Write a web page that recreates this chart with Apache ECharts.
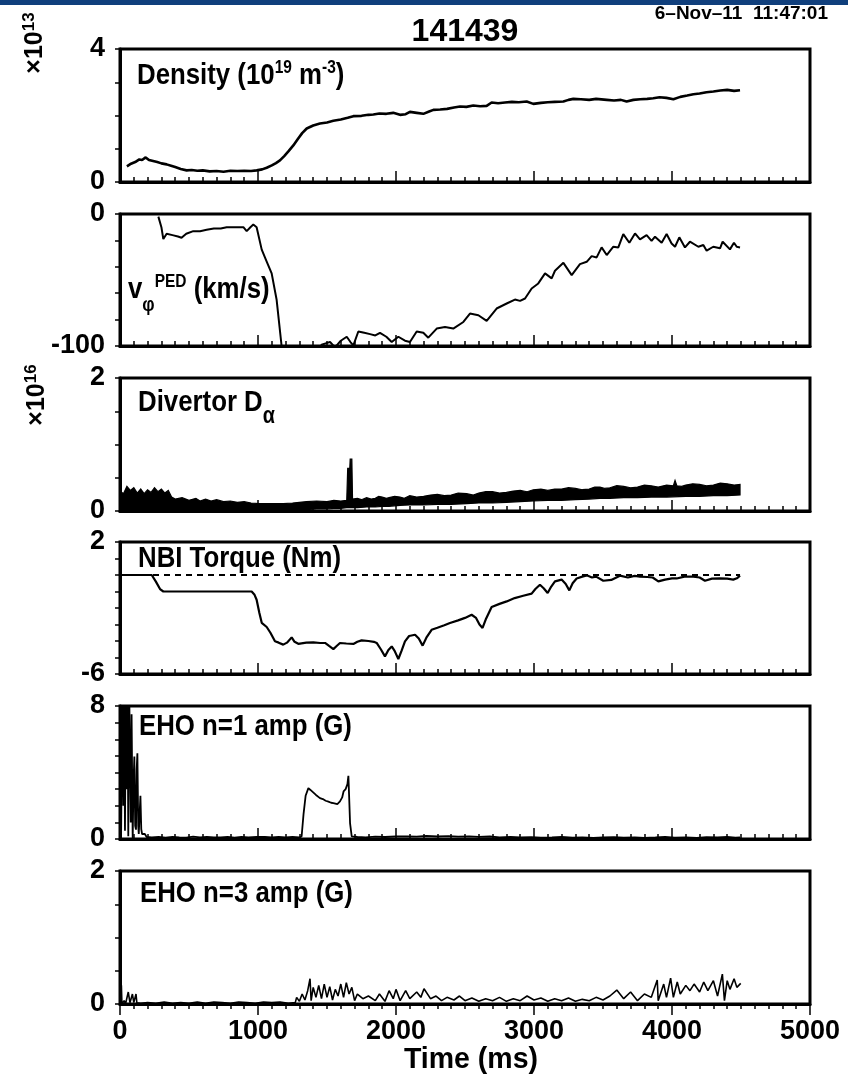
<!DOCTYPE html>
<html><head><meta charset="utf-8">
<script src="https://cdn.jsdelivr.net/npm/echarts@6/dist/echarts.min.js"></script>
<style>html,body{margin:0;padding:0;background:#fff}#c{width:848px;height:1080px}</style>
</head><body><div id="c"></div>
<script>
// ---------------- DATA ----------------
const shotNumber = '141439';
const dateStamp = '6\u2013Nov\u201311  11:47:01';
const xTickLabels = [0, 1000, 2000, 3000, 4000, 5000];

const density = [[50,0.47],[80,0.55],[110,0.6],[140,0.68],[160,0.66],[186,0.74],[210,0.66],[240,0.63],[270,0.6],[300,0.56],[338,0.53],[370,0.49],[400,0.45],[440,0.39],[483,0.35],[520,0.36],[560,0.34],[600,0.35],[650,0.32],[700,0.33],[750,0.31],[800,0.34],[850,0.33],[900,0.34],[950,0.33],[990,0.35],[1030,0.38],[1063,0.43],[1100,0.5],[1130,0.57],[1159,0.65],[1190,0.78],[1220,0.92],[1256,1.1],[1290,1.3],[1320,1.47],[1353,1.61],[1400,1.7],[1449,1.76],[1500,1.79],[1546,1.84],[1600,1.88],[1650,1.93],[1691,1.98],[1750,1.99],[1800,2.02],[1836,2.03],[1880,2.06],[1930,2.05],[1980,2.08],[2029,2.02],[2070,2.04],[2101,2.11],[2150,2.08],[2198,2.05],[2240,2.12],[2271,2.17],[2320,2.18],[2370,2.2],[2420,2.24],[2464,2.27],[2510,2.26],[2560,2.3],[2610,2.28],[2657,2.29],[2693,2.39],[2740,2.37],[2790,2.39],[2840,2.41],[2890,2.4],[2947,2.42],[2995,2.35],[3050,2.38],[3100,2.4],[3150,2.41],[3213,2.42],[3250,2.47],[3285,2.5],[3340,2.49],[3400,2.47],[3450,2.5],[3527,2.47],[3580,2.45],[3630,2.47],[3671,2.42],[3720,2.47],[3770,2.49],[3820,2.5],[3864,2.52],[3910,2.55],[3960,2.53],[4010,2.49],[4060,2.56],[4110,2.6],[4155,2.64],[4200,2.66],[4250,2.7],[4300,2.72],[4350,2.75],[4400,2.77],[4450,2.74],[4493,2.76]];

const vPed = [[278,-2],[300,-10],[314,-19],[338,-15],[380,-16],[420,-17],[446,-18],[480,-15],[531,-13],[580,-13],[628,-12],[680,-11],[730,-11],[773,-10],[830,-10],[894,-10],[918,-13],[945,-10],[966,-8],[990,-10],[1027,-27],[1063,-36],[1099,-45],[1135,-65],[1171,-100],[1200,-115],[1300,-120],[1400,-115],[1461,-99],[1490,-98],[1522,-97],[1540,-99],[1558,-101],[1600,-96],[1643,-93],[1670,-97],[1691,-99.5],[1727,-89],[1770,-90],[1812,-91],[1850,-92],[1884,-90],[1930,-93],[1969,-97],[2017,-93],[2065,-96],[2101,-97],[2150,-89],[2198,-90],[2234,-93.7],[2295,-86.8],[2355,-85.6],[2415,-86.8],[2488,-81.8],[2536,-75.4],[2597,-76.7],[2657,-81],[2729,-71.6],[2802,-67.8],[2862,-64.8],[2899,-65.8],[2935,-64],[2983,-56.4],[3031,-52.6],[3080,-45],[3128,-48.8],[3152,-43],[3213,-37],[3273,-46.3],[3333,-38],[3382,-36.2],[3418,-31.9],[3454,-32.9],[3490,-25.3],[3527,-31.1],[3575,-24.8],[3611,-25.3],[3647,-15.2],[3691,-21.8],[3732,-14.7],[3768,-19.2],[3816,-16],[3852,-20.3],[3877,-17.2],[3925,-21.8],[3961,-15.2],[3997,-22.3],[4022,-24.8],[4053,-17.7],[4094,-25.3],[4130,-21],[4191,-24.8],[4227,-23.5],[4251,-27.8],[4299,-24.8],[4348,-26],[4367,-21],[4420,-26.8],[4449,-21.8],[4469,-24.8],[4493,-25.3]];

const dalphaUpper = [[0,0.30],[25,0.26],[50,0.37],[75,0.31],[100,0.35],[125,0.27],[150,0.33],[175,0.26],[200,0.32],[225,0.28],[250,0.35],[275,0.29],[300,0.33],[325,0.27],[350,0.31],[374,0.21],[400,0.18],[450,0.20],[500,0.16],[550,0.19],[580,0.15],[620,0.18],[660,0.15],[700,0.17],[750,0.14],[800,0.15],[850,0.13],[900,0.14],[950,0.12],[1010,0.11],[1100,0.11],[1183,0.11],[1250,0.12],[1300,0.13],[1350,0.14],[1425,0.15],[1500,0.14],[1550,0.16],[1600,0.15],[1643,0.16],[1650,0.64],[1665,0.64],[1668,0.78],[1680,0.78],[1685,0.18],[1720,0.19],[1750,0.17],[1787,0.2],[1820,0.18],[1850,0.19],[1875,0.22],[1900,0.21],[1930,0.19],[1950,0.2],[1990,0.22],[2029,0.21],[2060,0.19],[2100,0.23],[2150,0.21],[2200,0.22],[2250,0.24],[2300,0.25],[2350,0.23],[2400,0.24],[2450,0.27],[2512,0.26],[2560,0.24],[2600,0.27],[2650,0.29],[2700,0.29],[2750,0.27],[2800,0.28],[2850,0.3],[2900,0.31],[2950,0.29],[2995,0.32],[3050,0.33],[3100,0.31],[3150,0.33],[3200,0.33],[3250,0.35],[3300,0.34],[3350,0.32],[3400,0.33],[3440,0.36],[3478,0.36],[3510,0.34],[3550,0.35],[3600,0.38],[3650,0.37],[3700,0.35],[3750,0.36],[3800,0.39],[3850,0.38],[3900,0.36],[3961,0.39],[4010,0.38],[4022,0.46],[4035,0.38],[4070,0.37],[4100,0.39],[4150,0.41],[4200,0.4],[4250,0.38],[4300,0.39],[4350,0.42],[4400,0.41],[4450,0.39],[4493,0.40]];
const dalphaLower = [[0,0],[1250,0],[1300,0.02],[1350,0.02],[1425,0.03],[1500,0.03],[1550,0.04],[1600,0.04],[1643,0.05],[1720,0.05],[1787,0.06],[1850,0.06],[1900,0.07],[1950,0.07],[2029,0.086],[2100,0.09],[2200,0.09],[2300,0.1],[2400,0.1],[2512,0.11],[2600,0.12],[2700,0.12],[2800,0.13],[2900,0.14],[2995,0.15],[3100,0.16],[3200,0.16],[3300,0.17],[3400,0.18],[3478,0.19],[3550,0.19],[3650,0.2],[3750,0.2],[3850,0.21],[3961,0.21],[4100,0.22],[4200,0.22],[4300,0.23],[4400,0.23],[4493,0.24]];

const torque = [[0,0],[230,0],[260,-0.4],[290,-0.85],[314,-1.0],[500,-1.0],[700,-1.0],[954,-1.0],[975,-1.2],[990,-1.5],[1010,-2.3],[1027,-2.9],[1063,-3.15],[1090,-3.5],[1123,-4.02],[1150,-4.1],[1183,-4.22],[1210,-4.1],[1244,-3.78],[1265,-4.05],[1292,-4.17],[1350,-4.1],[1401,-4.08],[1450,-4.12],[1486,-4.12],[1515,-4.3],[1546,-4.49],[1570,-4.3],[1594,-4.12],[1640,-4.15],[1691,-4.18],[1720,-4.05],[1751,-3.96],[1800,-4.0],[1840,-4.05],[1860,-4.12],[1890,-4.5],[1920,-4.93],[1945,-4.55],[1969,-4.33],[1990,-4.6],[2017,-5.09],[2040,-4.6],[2065,-4.02],[2095,-3.7],[2138,-3.62],[2165,-3.85],[2193,-4.28],[2220,-3.8],[2258,-3.32],[2300,-3.2],[2350,-3.05],[2391,-2.91],[2450,-2.75],[2500,-2.6],[2548,-2.41],[2580,-2.6],[2605,-3.0],[2627,-3.21],[2650,-2.7],[2693,-1.94],[2750,-1.75],[2802,-1.6],[2860,-1.4],[2922,-1.26],[2983,-1.13],[3010,-0.85],[3043,-0.59],[3070,-0.8],[3099,-1.09],[3125,-0.7],[3152,-0.39],[3200,-0.28],[3230,-0.55],[3256,-0.93],[3280,-0.5],[3309,-0.21],[3350,-0.1],[3382,-0.02],[3420,-0.15],[3450,-0.1],[3502,-0.35],[3560,-0.3],[3623,-0.04],[3680,-0.15],[3730,-0.05],[3768,-0.1],[3820,-0.12],[3860,-0.15],[3901,-0.39],[3950,-0.28],[4000,-0.2],[4034,-0.21],[4090,-0.1],[4155,-0.1],[4200,-0.15],[4239,-0.35],[4290,-0.22],[4348,-0.2],[4400,-0.22],[4444,-0.28],[4470,-0.2],[4493,-0.04]];
const torqueRef = [[0,0],[4493,0]];

const ehoN1 = [[0,0],[8,0.3],[14,6],[19,9.5],[24,2],[30,9.5],[36,0.5],[43,9.5],[48,3],[54,9.5],[60,0.16],[66,9.5],[72,9.5],[78,1],[84,7.5],[92,0],[98,3.5],[104,4.96],[110,0.8],[116,0.56],[121,4.2],[126,5.16],[132,0.8],[136,0.3],[142,1.5],[148,2.6],[154,0.6],[160,0.3],[169,0.2],[180,0.3],[193,0.12],[230,0.1],[280,0.12],[330,0.08],[380,0.13],[430,0.1],[480,0.08],[530,0.14],[580,0.1],[630,0.12],[680,0.09],[730,0.1],[780,0.13],[830,0.08],[880,0.12],[930,0.1],[990,0.12],[1050,0.12],[1100,0.1],[1150,0.12],[1200,0.1],[1250,0.12],[1300,0.1],[1316,0.15],[1330,1.5],[1345,2.6],[1365,3.06],[1380,2.95],[1400,2.8],[1420,2.65],[1449,2.46],[1470,2.4],[1490,2.3],[1510,2.25],[1530,2.18],[1546,2.16],[1560,2.2],[1575,2.1],[1594,2.26],[1610,2.5],[1620,2.86],[1635,3.0],[1648,3.3],[1655,3.8],[1661,2.4],[1667,0.96],[1679,0.16],[1720,0.12],[1780,0.1],[1850,0.14],[1920,0.12],[2000,0.15],[2080,0.16],[2150,0.14],[2220,0.18],[2300,0.15],[2380,0.17],[2450,0.14],[2530,0.16],[2600,0.13],[2680,0.15],[2750,0.1],[2830,0.12],[2900,0.09],[2980,0.11],[3050,0.08],[3130,0.1],[3200,0.12],[3280,0.08],[3350,0.1],[3430,0.07],[3500,0.09],[3580,0.11],[3650,0.08],[3730,0.1],[3800,0.07],[3880,0.09],[3950,0.12],[4020,0.08],[4100,0.1],[4180,0.07],[4250,0.11],[4330,0.09],[4400,0.12],[4460,0.08],[4493,0.1]];

const ehoN3 = [[0,0.02],[10,0.28],[14,0.0],[30,0.05],[40,0.0],[60,0.18],[68,0.18],[72,0.02],[90,0.15],[100,0.02],[116,0.15],[122,0.02],[150,0.01],[200,0.02],[260,0.01],[320,0.03],[380,0.01],[440,0.02],[500,0.01],[560,0.03],[620,0.01],[680,0.03],[740,0.02],[800,0.01],[860,0.03],[920,0.02],[980,0.01],[1040,0.03],[1100,0.02],[1160,0.03],[1220,0.01],[1270,0.02],[1280,0.1],[1300,0.04],[1320,0.15],[1340,0.06],[1360,0.2],[1377,0.38],[1385,0.05],[1400,0.25],[1420,0.1],[1440,0.28],[1460,0.08],[1480,0.3],[1500,0.1],[1520,0.26],[1540,0.06],[1560,0.22],[1580,0.12],[1600,0.3],[1620,0.1],[1640,0.32],[1660,0.15],[1680,0.25],[1700,0.05],[1720,0.15],[1760,0.08],[1800,0.12],[1850,0.05],[1880,0.15],[1920,0.04],[1950,0.2],[1980,0.08],[2000,0.22],[2030,0.05],[2070,0.2],[2100,0.08],[2150,0.18],[2180,0.1],[2203,0.23],[2250,0.08],[2290,0.12],[2330,0.05],[2370,0.1],[2420,0.06],[2460,0.12],[2500,0.05],[2550,0.09],[2600,0.04],[2650,0.08],[2700,0.05],[2750,0.1],[2800,0.04],[2850,0.08],[2900,0.05],[2950,0.12],[3000,0.06],[3050,0.09],[3100,0.04],[3150,0.08],[3200,0.05],[3250,0.09],[3300,0.04],[3350,0.07],[3400,0.05],[3450,0.1],[3500,0.06],[3550,0.12],[3600,0.21],[3650,0.08],[3700,0.18],[3750,0.05],[3800,0.15],[3850,0.1],[3893,0.36],[3900,0.05],[3940,0.3],[3960,0.1],[3990,0.39],[4010,0.1],[4038,0.33],[4060,0.15],[4100,0.28],[4130,0.2],[4160,0.3],[4200,0.18],[4230,0.33],[4260,0.2],[4300,0.35],[4330,0.12],[4365,0.45],[4380,0.05],[4400,0.35],[4420,0.22],[4450,0.38],[4470,0.25],[4498,0.31]];

// y-axis ranges: [min, max, minor tick step]
const yRanges = [[0,4,1],[-100,0,20],[0,2,0.5],[-6,2,1],[0,8,1],[0,2,0.5]];

// ---------------- LAYOUT ----------------
const FONT = "'Liberation Sans','Arial',sans-serif";
const panelTops = [49,214,378,542,706,871];
const panelHeights = [133,132,133,132,133,133];
const BLACK = '#000';

const grid = [], xAxis = [], yAxis = [], series = [];
yRanges.forEach((r, i) => {
  const last = i === yRanges.length - 1;
  grid.push({left:120, width:690, top:panelTops[i], height:panelHeights[i], show:true,
    borderColor:BLACK, borderWidth:3, backgroundColor:'transparent', containLabel:false, outerBoundsMode:'none'});
  xAxis.push({type:'value', gridIndex:i, min:0, max:5000, interval:1000,
    axisLine:{show:true, onZero:false, lineStyle:{color:BLACK, width:3}},
    axisTick:{show:true, inside:!last, length:11, lineStyle:{color:BLACK, width:1.5}},
    minorTick:{show:true, splitNumber:10, length:5, lineStyle:{color:BLACK, width:1.5}},
    splitLine:{show:false}, minorSplitLine:{show:false},
    axisLabel:{show:last, customValues:xTickLabels, formatter:(v)=>String(v), fontFamily:FONT, fontWeight:'bold', fontSize:27, color:BLACK, margin:14}
  });
  const [mn, mx, step] = r;
  yAxis.push({type:'value', gridIndex:i, min:mn, max:mx, interval:step,
    axisLine:{show:true, onZero:false, lineStyle:{color:BLACK, width:3}},
    axisTick:{show:true, length:5, lineStyle:{color:BLACK, width:1.5}},
    splitLine:{show:false},
    axisLabel:{show:true, formatter:(v)=> (Math.abs(v-mn)<1e-9||Math.abs(v-mx)<1e-9) ? String(v) : '',
      fontFamily:FONT, fontWeight:'bold', fontSize:27, color:BLACK, margin:15}
  });
  yAxis.push({type:'value', gridIndex:i, min:mn, max:mx,
    axisLine:{show:false}, splitLine:{show:false}, axisLabel:{show:false},
    axisTick:{show:true, length:10, customValues:[mn, mx], lineStyle:{color:BLACK, width:1.5}}
  });
});

function lineSeries(i, data, width, extra) {
  return Object.assign({type:'line', xAxisIndex:i, yAxisIndex:2*i, data:data, showSymbol:false, symbol:'none',
    clip:true, silent:true, animation:false, lineStyle:{color:BLACK, width:width}}, extra||{});
}
series.push(lineSeries(0, density, 2.6));
series.push(lineSeries(1, vPed, 2));
// Divertor D-alpha: noisy band between lower and upper envelopes, drawn through the axis scales
series.push({type:'custom', xAxisIndex:2, yAxisIndex:4, data:dalphaUpper, silent:true, animation:false, clip:true,
  renderItem:(params, api) => {
    if (params.dataIndex !== 0) return null;
    const pts = dalphaUpper.map(p => api.coord(p)).concat(dalphaLower.slice().reverse().map(p => api.coord(p)));
    return {type:'polygon', shape:{points:pts}, style:{fill:BLACK, stroke:BLACK, lineWidth:1.2}};
  }});
series.push(lineSeries(3, torqueRef, 2, {lineStyle:{color:BLACK, width:2, type:[6,5]}}));
series.push(lineSeries(3, torque, 2.2));
series.push(lineSeries(4, ehoN1, 1.8));
series.push(lineSeries(5, ehoN3, 1.6));

const T = (t, x, y, size, sx, extra) => Object.assign({type:'text', x:x, y:y, scaleX:sx, silent:true,
  style:Object.assign({text:t, fill:BLACK, font:'bold '+size+'px '+FONT}, extra||{})});
const rich = (a, s) => ({
  a:{fontSize:a, fontWeight:'bold', fontFamily:FONT, fill:BLACK, lineHeight:a+4},
  s:{fontSize:s, fontWeight:'bold', fontFamily:FONT, fill:BLACK, lineHeight:s, verticalAlign:'top'},
  b:{fontSize:s+2, fontWeight:'bold', fontFamily:FONT, fill:BLACK, lineHeight:s+2, verticalAlign:'bottom', padding:[0,0,-8,0]}
});
const SX = 0.86;

const graphic = [
  {type:'rect', shape:{x:0, y:0, width:848, height:5}, style:{fill:'#103f7c'}, silent:true},
  T(shotNumber, 465, 32, 32, 1, {textAlign:'center', textVerticalAlign:'middle'}),
  T(dateStamp, 828, 14, 19, 1, {textAlign:'right', textVerticalAlign:'middle'}),
  {type:'text', x:35, y:43, rotation:Math.PI/2, silent:true,
    style:{text:'{a|\u00d710}{s|13}', rich:rich(25,17), textAlign:'center', textVerticalAlign:'middle', fill:BLACK}},
  {type:'text', x:37, y:395, rotation:Math.PI/2, silent:true,
    style:{text:'{a|\u00d710}{s|16}', rich:rich(25,17), textAlign:'center', textVerticalAlign:'middle', fill:BLACK}},
  {type:'text', x:137, y:76, scaleX:SX, silent:true,
    style:{text:'{a|Density (10}{s|19}{a| m}{s|-3}{a|)}', rich:rich(30,18), textVerticalAlign:'middle', fill:BLACK}},
  {type:'text', x:128, y:290, scaleX:SX, silent:true,
    style:{text:'{a|v}{b|\u03c6}{s|PED}{a| (km/s)}', rich:rich(30,18), textVerticalAlign:'middle', fill:BLACK}},
  {type:'text', x:138, y:403, scaleX:SX, silent:true,
    style:{text:'{a|Divertor D}{b|\u03b1}', rich:rich(30,21), textVerticalAlign:'middle', fill:BLACK}},
  T('NBI Torque (Nm)', 138, 559, 30, SX, {textVerticalAlign:'middle'}),
  T('EHO n=1 amp (G)', 139, 727, 30, SX, {textVerticalAlign:'middle'}),
  T('EHO n=3 amp (G)', 140, 894, 30, SX, {textVerticalAlign:'middle'}),
  T('Time (ms)', 471, 1060, 30, 0.95, {textAlign:'center', textVerticalAlign:'middle'})
];

const chart = echarts.init(document.getElementById('c'), null, {renderer:'canvas'});
chart.setOption({backgroundColor:'#fff', animation:false, grid, xAxis, yAxis, series, graphic});
</script>
</body></html>
